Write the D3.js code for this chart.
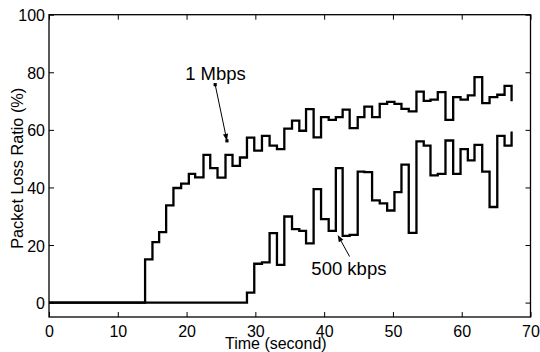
<!DOCTYPE html>
<html>
<head>
<meta charset="utf-8">
<script src="https://cdn.jsdelivr.net/npm/d3@7"></script>
<style>
  html, body { margin: 0; padding: 0; background: #fff; }
  svg text { font-family: "Liberation Sans", Arial, Helvetica, sans-serif; }
</style>
</head>
<body>
<svg id="chart" width="540" height="352"></svg>
<script>
// ---- data ----
const times = [0, 13.97, 15.04, 16.01, 17.03, 18.09, 19.21, 20.33, 21.25, 22.46, 23.44,
  24.50, 25.66, 26.68, 27.76, 28.78, 29.84, 30.96, 32.07, 33.14, 34.21,
  35.33, 36.39, 37.37, 38.47, 39.55, 40.66, 41.70, 42.69, 43.71, 44.88,
  45.85, 46.97, 48.08, 49.16, 50.22, 51.24, 52.30, 53.42, 54.48, 55.46,
  56.52, 57.64, 58.76, 59.83, 60.89, 61.86, 62.98, 64.05, 65.17, 66.23, 67.25];

const loss1Mbps = [0, 15, 21, 24.5, 33.8, 39.8, 41.3, 44.7, 43.5, 51.3, 46.7,
  43.4, 51.3, 47.5, 50.4, 57.3, 52.8, 57.9, 54.5, 53.3, 60.4,
  63.2, 59.7, 67.2, 57.4, 64.4, 63.5, 64.4, 67, 60.6, 64.4,
  68.1, 64.4, 69, 69.7, 69, 67.3, 66.4, 73.3, 70.1, 70.5,
  73.1, 63.5, 71.4, 70.5, 72, 78.3, 69.3, 71.4, 72.2, 75.3, 69.9];

const loss500kbps = [0, 0, 0, 0, 0, 0, 0, 0, 0, 0, 0,
  0, 0, 0, 0, 3.5, 13.5, 14, 24.1, 13.1, 29.9,
  25.5, 24.9, 20.6, 39.4, 29, 24.9, 46.7, 23.2, 23.5, 45.5,
  45.3, 35.5, 34.5, 32, 38.4, 47.9, 24.2, 56, 54.5, 44.2,
  44.7, 56.3, 44.7, 53.3, 49.4, 54.8, 45.5, 33.2, 57.9, 54.5, 59.4];

const xTicks = [0, 10, 20, 30, 40, 50, 60, 70];
const yTicks = [0, 20, 40, 60, 80, 100];
const xDomain = [0, 70];
const yDomain = [-5, 100];

const annotations = [
  { label: "1 Mbps", tx: 24.2, ty: 77.2, from: [24.16, 75.7], to: [25.87, 56.2], dots: true },
  { label: "500 kbps", tx: 43.6, ty: 9.6, from: [43.7, 16.0], to: [41.97, 23.5], dots: false }
];

const xTitle = "Time (second)";
const yTitle = "Packet Loss Ratio (%)";

// ---- layout ----
const svg = d3.select("#chart");
const mLeft = 49, mRight = 530.5, mTop = 14.7, mBottom = 317;
const x = d3.scaleLinear().domain(xDomain).range([mLeft, mRight]);
const y = d3.scaleLinear().domain(yDomain).range([mBottom, mTop]);
const fontSize = 16;
const annoFontSize = 18.5;

// frame
svg.append("rect")
  .attr("x", mLeft).attr("y", mTop)
  .attr("width", mRight - mLeft).attr("height", mBottom - mTop)
  .attr("fill", "none").attr("stroke", "#000").attr("stroke-width", 1.3);

function styleAxis(g) {
  g.select(".domain").remove();
  g.selectAll(".tick line").attr("stroke", "#000").attr("stroke-width", 1);
  g.selectAll(".tick text").attr("fill", "#000")
    .style("font-size", fontSize + "px")
    .style("font-family", "'Liberation Sans', Arial, Helvetica, sans-serif");
}

svg.append("g").attr("transform", `translate(0,${mBottom})`)
  .call(d3.axisBottom(x).tickValues(xTicks).tickSize(-5).tickPadding(8.3).tickFormat(d3.format("d")))
  .call(styleAxis);
svg.append("g").attr("transform", `translate(0,${mTop})`)
  .call(d3.axisTop(x).tickValues(xTicks).tickSize(-5).tickFormat(""))
  .call(styleAxis);
svg.append("g").attr("transform", `translate(${mLeft},0)`)
  .call(d3.axisLeft(y).tickValues(yTicks).tickSize(-5).tickPadding(4).tickFormat(d3.format("d")))
  .call(styleAxis)
  .selectAll(".tick text").attr("dy", "0.38em");
svg.append("g").attr("transform", `translate(${mRight},0)`)
  .call(d3.axisRight(y).tickValues(yTicks).tickSize(-5).tickFormat(""))
  .call(styleAxis);

// axis titles
svg.append("text").attr("x", 275.8).attr("y", 349.3)
  .attr("text-anchor", "middle").style("font-size", fontSize + "px").text(xTitle);
svg.append("text").attr("transform", `translate(22.5,168.3) rotate(-90)`)
  .attr("text-anchor", "middle").style("font-size", "16.3px").text(yTitle);

// series
const line = d3.line().curve(d3.curveStepAfter).x(d => x(d[0])).y(d => y(d[1]));
[loss1Mbps, loss500kbps].forEach(vals => {
  const pts = times.map((t, i) => [t, vals[i]]);
  svg.append("path").datum(pts)
    .attr("d", line)
    .attr("fill", "none").attr("stroke", "#000")
    .attr("stroke-width", 2.3).attr("stroke-linejoin", "miter");
});

// annotations
annotations.forEach(a => {
  svg.append("text").attr("x", x(a.tx)).attr("y", y(a.ty))
    .attr("text-anchor", "middle").style("font-size", annoFontSize + "px").text(a.label);
  const x1 = x(a.from[0]), y1 = y(a.from[1]), x2 = x(a.to[0]), y2 = y(a.to[1]);
  const ang = Math.atan2(y2 - y1, x2 - x1);
  const hl = 7, hw = 2.6;
  const bx = x2 - hl * Math.cos(ang), by = y2 - hl * Math.sin(ang);
  svg.append("line").attr("x1", x1).attr("y1", y1).attr("x2", bx).attr("y2", by)
    .attr("stroke", "#000").attr("stroke-width", 1);
  svg.append("path")
    .attr("d", `M${x2},${y2}L${bx - hw * Math.sin(ang)},${by + hw * Math.cos(ang)}L${bx + hw * Math.sin(ang)},${by - hw * Math.cos(ang)}Z`)
    .attr("fill", "#000");
  if (a.dots) {
    [[x1, y1], [x2, y2]].forEach(p => {
      svg.append("rect").attr("x", p[0] - 1.6).attr("y", p[1] - 1.6)
        .attr("width", 3.2).attr("height", 3.2).attr("fill", "#000");
    });
  }
});
</script>
</body>
</html>
